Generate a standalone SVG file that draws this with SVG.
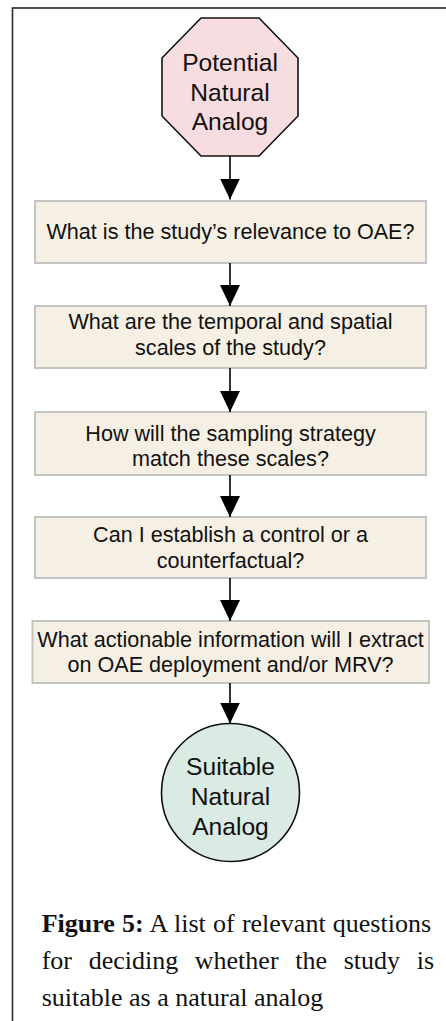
<svg xmlns="http://www.w3.org/2000/svg" width="446" height="1021" viewBox="0 0 446 1021">
<style>
.frame{fill:none;stroke:#2b2b2b;stroke-width:1.6}
.box{fill:#f6f0e4;stroke:#c4c4c4;stroke-width:2}
.oct{fill:#f8dde0;stroke:#111;stroke-width:1.6}
.circ{fill:#d9ebe2;stroke:#111;stroke-width:1.6}
.t{font-family:"Liberation Sans",Arial,sans-serif;font-size:21.6px;fill:#111;text-anchor:middle}
.big{font-family:"Liberation Sans",Arial,sans-serif;font-size:24.6px;fill:#111;text-anchor:middle}
.cap{font-family:"Liberation Serif","Times New Roman",serif;font-size:26px;fill:#111}
.conn line{stroke:#000;stroke-width:1.6}
</style>
<defs>
<marker id="ah" markerWidth="22" markerHeight="20" refX="21" refY="10" orient="auto" markerUnits="userSpaceOnUse">
<path d="M0,0 L21,10 L0,20 Z" fill="#000"/>
</marker>
</defs>
<rect class="frame" x="12.5" y="8" width="460" height="1040"/>
<g id="start">
<polygon class="oct" points="201,18 259,18 298,58 298,116 259,156 201,156 162,116 162,58"/>
<text class="big" x="230" y="70.5">Potential</text>
<text class="big" x="230" y="100.5">Natural</text>
<text class="big" x="230" y="130">Analog</text>
</g>
<g id="q1">
<rect class="box" x="35" y="201" width="391" height="62"/>
<text class="t" x="230.5" y="238.5">What is the study’s relevance to OAE?</text>
</g>
<g id="q2">
<rect class="box" x="35" y="306" width="391" height="62"/>
<text class="t" x="230.5" y="328.5">What are the temporal and spatial</text>
<text class="t" x="230.5" y="355">scales of the study?</text>
</g>
<g id="q3">
<rect class="box" x="35" y="412" width="391" height="63"/>
<text class="t" x="230.5" y="440.5">How will the sampling strategy</text>
<text class="t" x="230.5" y="465.5">match these scales?</text>
</g>
<g id="q4">
<rect class="box" x="35" y="517" width="391" height="61"/>
<text class="t" x="230.5" y="542">Can I establish a control or a</text>
<text class="t" x="230.5" y="567.5">counterfactual?</text>
</g>
<g id="q5">
<rect class="box" x="32.5" y="621" width="396.5" height="62"/>
<text class="t" x="230.5" y="647">What actionable information will I extract</text>
<text class="t" x="230.5" y="672">on OAE deployment and/or MRV?</text>
</g>
<g id="end">
<circle class="circ" cx="230.5" cy="792.5" r="69"/>
<text class="big" x="230.5" y="775">Suitable</text>
<text class="big" x="230.5" y="805">Natural</text>
<text class="big" x="230.5" y="835">Analog</text>
</g>
<g id="connectors" class="conn">
<line x1="230" y1="156" x2="230" y2="199.5" marker-end="url(#ah)"/>
<line x1="230" y1="263" x2="230" y2="306" marker-end="url(#ah)"/>
<line x1="230" y1="368" x2="230" y2="412" marker-end="url(#ah)"/>
<line x1="230" y1="475" x2="230" y2="517" marker-end="url(#ah)"/>
<line x1="230" y1="578" x2="230" y2="621" marker-end="url(#ah)"/>
<line x1="230" y1="683" x2="230" y2="723.5" marker-end="url(#ah)"/>
</g>
<g id="caption">
<text class="cap" x="41.7" y="932" word-spacing="0.7"><tspan font-weight="bold">Figure 5:</tspan> A list of relevant questions</text>
<text class="cap" y="969"><tspan x="41.7">for</tspan><tspan x="88.7">deciding</tspan><tspan x="194.8">whether</tspan><tspan x="295.2">the</tspan><tspan x="343.7">study</tspan><tspan x="416.7">is</tspan></text>
<text class="cap" x="41.7" y="1005.5">suitable as a natural analog</text>
</g>
</svg>
